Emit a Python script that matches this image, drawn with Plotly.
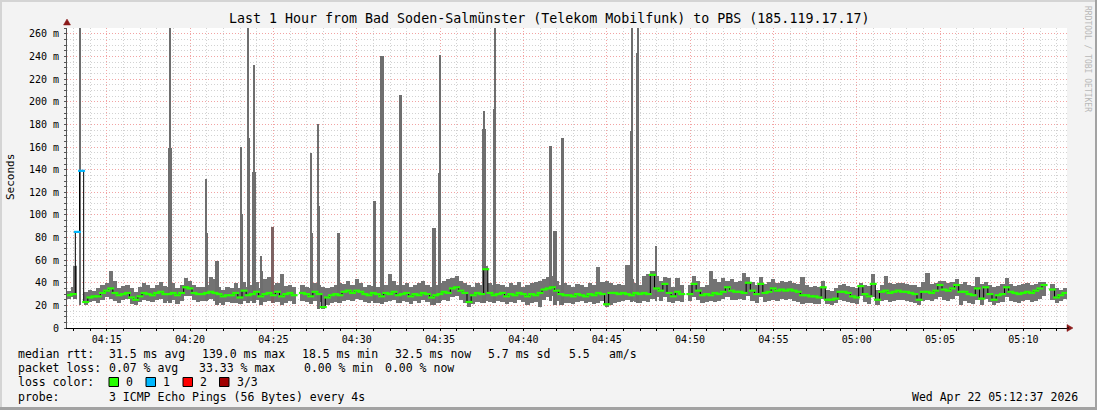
import plotly.graph_objects as go
from datetime import datetime, timedelta

TITLE = "Last 1 Hour from Bad Soden-Salmünster (Telekom Mobilfunk) to PBS (185.119.17.17)"
START = "2026-04-22 04:12:37"
END = "2026-04-22 05:12:37"
STEP_S = 15

# median round-trip time per step (ms); None = no data
median_ms = [
    29, 30, 85, 139, 23, 27, 28, 28, 31, 33, 35, 31, 29, 30, 31, 27, 25, 28, 31, 30,
    29, 31, 32, 30, 30, 31, 29, 31, 36, 35, 31, 30, 30, 31, 32, 31, 30, 28, 29, 29,
    31, 27, 33, 29, 30, 32, 28, 30, 31, 29, 32, 28, 30, 31, 29, None, 31, 30, 28, 32,
    30, 18.5, 27, 29, 30, 29, 32, 33, 31, 33, 32, 30, 29, 31, 30, 28, 31, 30, 32, 29,
    30, 31, 28, 30, 29, 31, 30, 27, 29, 30, 32, 31, 35, 36, 33, 31, 23, 29, 31, 30,
    52, 31, 29, 30, 31, 28, 30, 29, 31, 30, 28, 30, 29, 31, 34, 35, 36, 33, 30, 29,
    29, 28, 30, 29, 28, 30, 29, 31, 30, 21, 31, 31, 30, 31, 30, 29, 31, 30, 31, 30,
    47, 35, 33, 39, 31, 28, 32, 30, None, 30, 39, 33, 29, 30, 29, 31, 30, 32, 36, 33,
    32, 32, 31, 40, 33, 30, 39, 31, 32, 35, 33, 34, 33, 34, 33, 32, 29, 29, 28, 28,
    27, 36, 25, 25, 26, 32, 32, 31, 28, 27, 37, 30, 28, 39, 25, 32, 33, 31, 32, 33,
    32, 32, 31, 30, 25, 32, 32, 31, 33, 38, 34, 33, 35, 38, 32, 32, 30, 29, 35, 26,
    36, 30, 25, 29, 30, 36, 32, 31, 30, 31, 32, 31, 33, 35, 38, None, 34, 27, 29, 31,
]

# smoke (ping spread) lower / upper bound per step (ms)
smoke_lo_ms = [
    26, 27, None, None, 20, 23, 24, 22, 25, 27, 26, 24, 22, 25, 26, 21, 20, 23, 25, 24,
    23, 25, 26, 22, 24, 25, 21, 24, 28, 28, 25, 23, 24, 25, 26, 24, 22, 20, 23, 22,
    22, 21, 24, 22, 24, 25, 20, 23, 24, 22, 23, 20, 22, 24, 21, None, 24, 23, 21, 24,
    23, 17, 20, 22, 23, 22, 24, 25, 24, 26, 25, 23, 22, 24, 22, 21, 23, 24, 25, 22,
    24, 23, 21, 24, 22, 25, 23, 20, 22, 24, 25, 24, 27, 28, 25, 22, 19, 21, 23, 22,
    24, 23, 22, 24, 23, 21, 23, 22, 25, 23, 20, 22, 23, 19, 25, 27, 28, 24, 20, 22,
    22, 21, 23, 24, 22, 23, 21, 22, 24, 19, 20, 22, 23, 24, 25, 24, 23, 22, 24, 23,
    26, 27, 24, 27, 23, 22, 24, 23, None, 24, 27, 25, 22, 23, 24, 23, 24, 26, 27, 25,
    25, 26, 25, 28, 24, 22, 27, 23, 24, 25, 24, 26, 25, 26, 24, 23, 21, 22, 22, 21,
    21, 26, 21, 20, 22, 25, 24, 23, 22, 21, 28, 23, 21, 27, 20, 24, 25, 23, 24, 25,
    25, 24, 23, 22, 20, 24, 25, 24, 26, 27, 25, 24, 26, 28, 20, 24, 22, 21, 25, 20,
    26, 23, 20, 22, 23, 27, 24, 23, 22, 24, 25, 23, 24, 26, 28, None, 25, 22, 24, 26,
]
smoke_hi_ms = [
    33, 36, None, None, 32, 34, 33, 35, 38, 40, 50, 42, 35, 37, 38, 35, 32, 36, 40, 38,
    35, 38, 41, 37, 36, 40, 35, 38, 44, 42, 38, 36, 36, 38, 45, 43, 36, 34, 36, 35,
    40, 35, 41, 36, 38, 41, 35, 43, 45, 38, 40, 48, 37, 38, 36, None, 38, 36, 35, 40,
    38, 36, 35, 36, 38, 40, 39, 42, 38, 43, 40, 36, 38, 37, 36, 35, 38, 48, 42, 38,
    38, 40, 36, 38, 40, 42, 38, 36, 38, 40, 42, 43, 44, 46, 42, 40, 38, 36, 40, 38,
    55, 40, 38, 39, 38, 36, 40, 38, 41, 36, 38, 40, 41, 42, 43, 45, 46, 42, 38, 40,
    38, 36, 39, 38, 36, 40, 38, 54, 41, 42, 40, 38, 39, 38, 56, 43, 40, 38, 46, 48,
    50, 46, 42, 45, 44, 36, 44, 38, None, 38, 46, 42, 36, 38, 50, 43, 41, 44, 42, 43,
    41, 42, 49, 45, 41, 38, 45, 39, 41, 43, 40, 42, 41, 42, 40, 39, 45, 38, 36, 37,
    36, 42, 34, 33, 35, 38, 39, 37, 36, 35, 40, 38, 37, 48, 34, 38, 46, 40, 39, 40,
    40, 39, 38, 38, 36, 41, 49, 39, 40, 42, 42, 40, 41, 43, 39, 41, 38, 37, 45, 39,
    41, 38, 36, 37, 39, 44, 39, 37, 38, 39, 40, 38, 39, 41, 41, None, 39, 35, 34, 35,
]

# steps with packet loss (index into the arrays above, lost pings of 3)
loss_index = [2, 3]
loss_count = [1, 1]

# latency spikes (smoke above the baseline)
spike_time = ["04:13:06", "04:13:24", "04:18:48", "04:20:59", "04:21:37", "04:23:05",
              "04:23:29", "04:23:50", "04:24:17", "04:24:58", "04:27:17", "04:27:41",
              "04:28:54", "04:31:05", "04:31:31", "04:32:39", "04:34:38", "04:34:59",
              "04:37:38", "04:38:17", "04:41:39", "04:41:54", "04:42:21", "04:46:30",
              "04:46:52", "04:47:57"]
spike_wide_top = [55, None, 159, 84, 59.5, 101, 168, 138, 50, 89.6, 84, 108,
                  84, 112, 240.5, 206, 88, 137, 176, 194, 161, 86, 168, 174.5,
                  243, None]
spike_thin_top = [None, 266, 266, 132, None, 160, 266, 233, 64, None, 155, 180,
                  None, None, None, None, None, 241, 192, 266, None, None, None, 266,
                  266, 72.5]
spike_loss = [0, 0, 0, 0, 0, 0, 0, 0, 0, 2, 0, 0, 0, 0, 0, 0, 0, 0, 0, 0, 0, 0, 0, 0, 0, 0]

y_tick_vals = [0, 20, 40, 60, 80, 100, 120, 140, 160, 180, 200, 220, 240, 260]
y_tick_text = ["0", "20 m", "40 m", "60 m", "80 m", "100 m", "120 m", "140 m",
               "160 m", "180 m", "200 m", "220 m", "240 m", "260 m"]

stats_rtt = ["median rtt:", "31.5 ms avg", "139.0 ms max", "18.5 ms min",
             "32.5 ms now", "5.7 ms sd", "5.5", "am/s"]
stats_loss = ["packet loss:", "0.07 % avg", "33.33 % max", "0.00 % min", "0.00 % now"]
loss_labels = ["0", "1", "2", "3/3"]
probe_label = "probe:"
probe_text = "3 ICMP Echo Pings (56 Bytes) every 4s"
stamp_text = "Wed Apr 22 05:12:37 2026"
watermark = "RRDTOOL / TOBI OETIKER"

# ---------------- styling ----------------
LOSS_COLORS = {0: "#26ff00", 1: "#00b8ff", 2: "#ff0000", 3: "#a00000"}
SMOKE = "#737373"
SMOKE_LOSS = {0: "#6e6e6e", 1: "#6e6e6e", 2: "#7e6262", 3: "#7e5555"}
FONT = "DejaVu Sans Mono"
W, H = 1097, 410
PL, PR, PT, PB = 67, 1067, 28, 328   # plot area in pixels


def px(x):
    return (x - PL) / (PR - PL)


def py(y):
    return (PB - y) / (PB - PT)


t0 = datetime.strptime(START, "%Y-%m-%d %H:%M:%S")
t1 = datetime.strptime(END, "%Y-%m-%d %H:%M:%S")
n = len(median_ms)
t_start = [t0 + timedelta(seconds=STEP_S * i) for i in range(n)]
t_center = [t + timedelta(seconds=STEP_S / 2) for t in t_start]

loss = [0] * n
for i, c in zip(loss_index, loss_count):
    loss[i] = c

fig = go.Figure()

# smoke band
fig.add_trace(go.Bar(
    x=t_center,
    base=smoke_lo_ms,
    y=[(h - l) if (h is not None and l is not None) else None for l, h in zip(smoke_lo_ms, smoke_hi_ms)],
    width=STEP_S * 1000,
    marker=dict(color=SMOKE, line=dict(width=0)),
    hoverinfo="skip",
))

# spikes
sp_t = [datetime.strptime(START[:11] + s, "%Y-%m-%d %H:%M:%S") for s in spike_time]


def base_at(t):
    i = int(round((t - t0).total_seconds() / STEP_S - 0.5))
    vals = [smoke_lo_ms[j] for j in range(max(0, i - 1), min(n, i + 2)) if smoke_lo_ms[j] is not None]
    return min(vals) if vals else 25


sp_base = [base_at(t) for t in sp_t]
sp_col = [SMOKE_LOSS[l] for l in spike_loss]
fig.add_trace(go.Bar(
    x=sp_t, base=sp_base,
    y=[(w - b) if w is not None else None for w, b in zip(spike_wide_top, sp_base)],
    width=11500, marker=dict(color=sp_col, line=dict(width=0)), hoverinfo="skip",
))
fig.add_trace(go.Bar(
    x=sp_t, base=sp_base,
    y=[(w - b) if w is not None else None for w, b in zip(spike_thin_top, sp_base)],
    width=3800, marker=dict(color=sp_col, line=dict(width=0)), hoverinfo="skip",
))

# median step line
fig.add_trace(go.Scatter(
    x=t_start + [t1], y=median_ms + [median_ms[-1]],
    mode="lines", line=dict(color="#000000", width=1, shape="hv"),
    hoverinfo="skip",
))
fig.add_trace(go.Scatter(
    x=t_center, y=median_ms, mode="markers",
    marker=dict(symbol="line-ew", size=5,
                line=dict(width=2.2, color=[LOSS_COLORS[l] for l in loss])),
    hoverinfo="skip",
))

ann = []
ann.append(dict(text=TITLE, xref="paper", yref="paper", x=px(W / 2), y=py(19),
                xanchor="center", yanchor="middle", showarrow=False,
                font=dict(family=FONT, size=13.3, color="#000")))
ann.append(dict(text="Seconds", xref="paper", yref="paper", x=px(10), y=py(177),
                textangle=-90, xanchor="center", yanchor="middle", showarrow=False,
                font=dict(family=FONT, size=11, color="#000")))
ann.append(dict(text=watermark, xref="paper", yref="paper", x=px(1088), y=py(59),
                textangle=90, xanchor="center", yanchor="middle", showarrow=False,
                font=dict(family=FONT, size=8, color="#b8b8b8")))

# y tick labels drawn as text right-aligned at the axis
for v, lab in zip(y_tick_vals, y_tick_text):
    ann.append(dict(text=lab, xref="paper", yref="y", x=px(61), y=v,
                    xanchor="right", yanchor="middle", showarrow=False,
                    font=dict(family=FONT, size=10, color="#000")))

leg_font = dict(family=FONT, size=11.5, color="#000")
for txt, xx in zip(stats_rtt, [16, 107, 200, 300, 393, 486, 567, 607]):
    ann.append(dict(text=txt, xref="paper", yref="paper", x=px(xx), y=py(354),
                    xanchor="left", yanchor="middle", showarrow=False, font=leg_font))
for txt, xx in zip(stats_loss, [16, 107, 197, 302, 383]):
    ann.append(dict(text=txt, xref="paper", yref="paper", x=px(xx), y=py(368),
                    xanchor="left", yanchor="middle", showarrow=False, font=leg_font))
ann.append(dict(text="loss color:", xref="paper", yref="paper", x=px(16), y=py(382),
                xanchor="left", yanchor="middle", showarrow=False, font=leg_font))
shapes = []
for k, (lab, sx) in enumerate(zip(loss_labels, [109, 146, 183, 219.5])):
    shapes.append(dict(type="rect", xref="paper", yref="paper",
                       x0=px(sx), x1=px(sx + 9.5), y0=py(386.5), y1=py(377.5),
                       fillcolor=LOSS_COLORS[k], line=dict(color="#000", width=1)))
    ann.append(dict(text=lab, xref="paper", yref="paper", x=px(sx + 15), y=py(382),
                    xanchor="left", yanchor="middle", showarrow=False, font=leg_font))
ann.append(dict(text=probe_label, xref="paper", yref="paper", x=px(16), y=py(397),
                xanchor="left", yanchor="middle", showarrow=False, font=leg_font))
ann.append(dict(text=probe_text, xref="paper", yref="paper", x=px(107), y=py(397),
                xanchor="left", yanchor="middle", showarrow=False, font=leg_font))
ann.append(dict(text=stamp_text, xref="paper", yref="paper", x=px(1080), y=py(397),
                xanchor="right", yanchor="middle", showarrow=False, font=leg_font))

# arrows
ARROW = "#8b1a1a"
shapes.append(dict(type="path", xref="paper", yref="paper",
                   path=f"M {px(63.5)} {py(25)} L {px(67)} {py(19)} L {px(70.5)} {py(25)} Z",
                   fillcolor=ARROW, line=dict(color=ARROW, width=0.5)))
shapes.append(dict(type="path", xref="paper", yref="paper",
                   path=f"M {px(1067)} {py(324.5)} L {px(1073)} {py(328)} L {px(1067)} {py(331.5)} Z",
                   fillcolor=ARROW, line=dict(color=ARROW, width=0.5)))
shapes.append(dict(type="line", xref="paper", yref="paper", x0=px(1067), x1=px(1069),
                   y0=py(328), y1=py(328), line=dict(color="#000", width=1)))
# outer frame
shapes.append(dict(type="rect", xref="paper", yref="paper", x0=px(0), x1=px(W), y0=py(0), y1=py(2),
                   fillcolor="#d4d4d4", line=dict(width=0)))
shapes.append(dict(type="rect", xref="paper", yref="paper", x0=px(0), x1=px(2), y0=py(0), y1=py(H),
                   fillcolor="#d4d4d4", line=dict(width=0)))
shapes.append(dict(type="rect", xref="paper", yref="paper", x0=px(0), x1=px(W), y0=py(H - 3), y1=py(H),
                   fillcolor="#a2a2a2", line=dict(width=0)))
shapes.append(dict(type="rect", xref="paper", yref="paper", x0=px(W - 2), x1=px(W), y0=py(0), y1=py(H),
                   fillcolor="#a2a2a2", line=dict(width=0)))

MAJOR = "#f2a3a3"
MINOR = "#d2d2d2"
fig.update_layout(
    width=W, height=H,
    margin=dict(l=PL, r=W - PR, t=PT, b=H - PB, pad=0),
    paper_bgcolor="#f3f3f3", plot_bgcolor="#ffffff",
    showlegend=False, barmode="overlay", bargap=0,
    annotations=ann, shapes=shapes,
    xaxis=dict(
        type="date", range=[t0, t1], tickformat="%H:%M",
        tick0="2026-04-22 04:15:00", dtick=300000,
        showgrid=True, gridcolor=MAJOR, griddash="1px,2px", gridwidth=1,
        ticks="outside", ticklen=2, tickcolor="#000",
        showline=True, linecolor="#000", linewidth=1, zeroline=False,
        tickfont=dict(family=FONT, size=10, color="#000"),
        minor=dict(dtick=60000, tick0="2026-04-22 04:15:00", showgrid=True,
                   gridcolor=MINOR, griddash="1px,2px", ticks="outside",
                   ticklen=2, tickcolor="#000"),
        fixedrange=True,
    ),
    yaxis=dict(
        range=[0, (PB - PT) / 1.1308], tickmode="array",
        tickvals=y_tick_vals, showticklabels=False,
        showgrid=True, gridcolor=MAJOR, griddash="1px,2px", gridwidth=1,
        ticks="outside", ticklen=2, tickcolor="#555",
        showline=True, linecolor="#555", linewidth=1, zeroline=False,
        minor=dict(dtick=5, tick0=0, showgrid=True, gridcolor=MINOR,
                   griddash="1px,2px", ticks="outside", ticklen=2, tickcolor="#555"),
        fixedrange=True,
    ),
)

fig.write_html(
    "out.html",
    config={"displayModeBar": False},
    post_script="document.body.style.margin='0';document.body.style.padding='0';",
)
